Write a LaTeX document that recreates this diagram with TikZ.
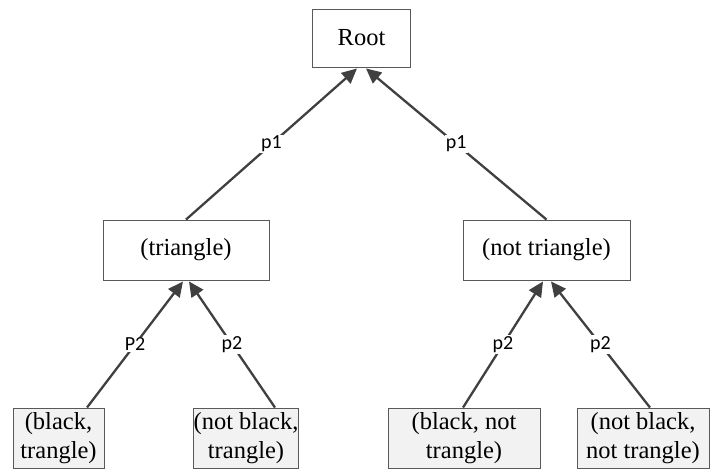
\documentclass[tikz,border=0pt]{standalone}
\usepackage{fontspec}
\setmainfont{Liberation Serif}
\newfontfamily\lblfont{Carlito}
\usetikzlibrary{arrows.meta}
\definecolor{edgecol}{HTML}{404040}
\definecolor{boxcol}{HTML}{595959}
\definecolor{leaffill}{HTML}{F2F2F2}
\begin{document}
\begin{tikzpicture}[x=1pt,y=-1pt,
  box/.style={draw=boxcol,line width=0.9pt,fill=white,inner sep=0pt,font=\fontsize{24.5}{28.5}\selectfont},
  leaf/.style={box,fill=leaffill,align=center},
  edge/.style={draw=edgecol,line width=2.3pt,-{Triangle[length=15pt,width=14pt]},shorten >=0pt},
  lbl/.style={fill=white,inner sep=1pt,font=\lblfont\fontsize{20}{22}\selectfont,text=black}]
\useasboundingbox (0,0) rectangle (719,470);
\node[box,minimum width=98pt,minimum height=58pt] (root) at (361.5,38) {Root};
\node[box,minimum width=166pt,minimum height=60pt] (tri) at (186,250) {(triangle)};
\node[box,minimum width=167pt,minimum height=60pt] (ntri) at (546.5,250) {(not triangle)};
\node[leaf,minimum width=91pt,minimum height=60pt] (l1) at (58.5,438) {(black,\\trangle)};
\node[leaf,minimum width=94pt,minimum height=60pt] (l2) at (246,438) {(not black,\\trangle)};
\node[leaf,minimum width=152pt,minimum height=60pt] (l3) at (464,438) {(black, not\\trangle)};
\node[leaf,minimum width=132pt,minimum height=60pt] (l4) at (643,438) {(not black,\\not trangle)};
\coordinate (l1t) at ([xshift=28.5pt]l1.north);
\coordinate (l2t) at ([xshift=29pt]l2.north);
\coordinate (l3t) at ([xshift=-1pt]l3.north);
\coordinate (l4t) at ([xshift=7pt]l4.north);
\draw[edge] (tri.north) -- node[lbl,pos=0.5]{p1} ([xshift=-4.5pt,yshift=-1pt]root.south);
\draw[edge] (ntri.north) -- node[lbl,pos=0.5]{p1} ([xshift=4.5pt,yshift=-1pt]root.south);
\draw[edge] (l1t) -- node[lbl,pos=0.5]{P2} ([xshift=-3pt,yshift=-1pt]tri.south);
\draw[edge] (l2t) -- node[lbl,pos=0.5]{p2} ([xshift=3pt,yshift=-1pt]tri.south);
\draw[edge] (l3t) -- node[lbl,pos=0.5]{p2} ([xshift=-3.5pt,yshift=-1pt]ntri.south);
\draw[edge] (l4t) -- node[lbl,pos=0.5]{p2} ([xshift=4.5pt,yshift=-1pt]ntri.south);
\end{tikzpicture}
\end{document}
